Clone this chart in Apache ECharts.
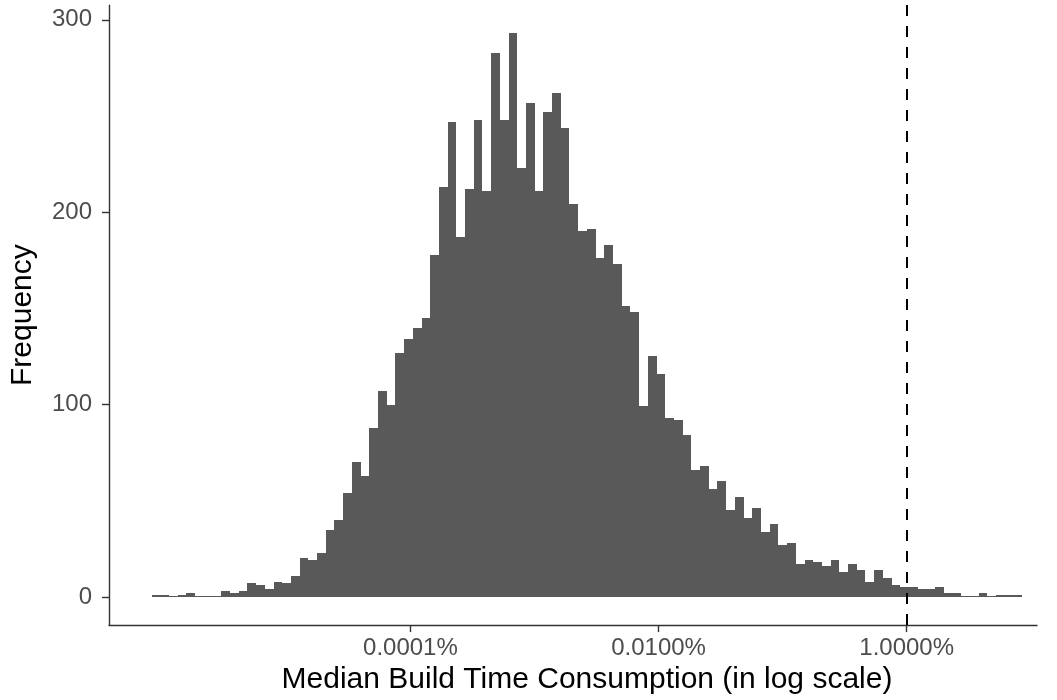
<!DOCTYPE html>
<html>
<head>
<meta charset="utf-8">
<title>Median Build Time Consumption</title>
<script src="https://cdn.jsdelivr.net/npm/echarts@6/dist/echarts.min.js"></script>
<style>
  html, body { margin: 0; padding: 0; background: #ffffff; }
  #chart { width: 1057px; height: 700px; }
</style>
</head>
<body>
<div id="chart"></div>
<script>
// Histogram of median build time consumption, 100 bins on a log10(percent) scale.
const binCounts = [
  1, 1, 0, 1, 2, 0, 0, 0, 3, 2,
  3, 7, 6, 4, 8, 7, 11, 20, 19, 23,
  35, 40, 54, 70, 63, 88, 107, 100, 127, 134,
  140, 145, 178, 213, 247, 187, 212, 248, 211, 283,
  248, 293, 223, 257, 211, 252, 262, 244, 204, 190,
  191, 176, 183, 173, 151, 148, 99, 125, 116, 93,
  92, 84, 66, 68, 56, 60, 45, 52, 41, 46,
  34, 38, 27, 28, 17, 19, 18, 16, 19, 13,
  17, 14, 8, 14, 10, 6, 5, 5, 4, 4,
  5, 2, 2, 0, 0, 2, 0, 1, 1, 1
];
// Lower edge of the first bin and the bin width, in log10(percent).
const binStart = -6.0856;
const binWidth = 0.07016;
// Threshold marked with the dashed line: 1% (log10 = 0).
const thresholdLog = 0;

const xTickValues = [-4, -2, 0];
const xTickLabels = ['0.0001%', '0.0100%', '1.0000%'];
const yTickValues = [0, 100, 200, 300];

const xTitle = 'Median Build Time Consumption (in log scale)';
const yTitle = 'Frequency';

const bins = binCounts.map((c, i) => [binStart + i * binWidth, binStart + (i + 1) * binWidth, c]);

const FONT = '"Liberation Sans", Arial, Helvetica, sans-serif';

const chart = echarts.init(document.getElementById('chart'), null, { renderer: 'canvas' });

chart.setOption({
  animation: false,
  backgroundColor: '#ffffff',
  grid: { left: 102, right: 20, top: 5.1, bottom: 73.5, containLabel: false },
  xAxis: {
    type: 'value',
    min: -6.4296,
    max: 1.0504,
    splitLine: { show: false },
    axisLine: { show: true, onZero: false, lineStyle: { color: '#333333', width: 1.4 } },
    axisTick: { show: true, customValues: xTickValues, length: 7, lineStyle: { color: '#333333', width: 1.4 } },
    axisLabel: {
      customValues: xTickValues,
      margin: 11,
      color: '#4d4d4d',
      fontSize: 24,
      fontFamily: FONT,
      formatter: (v) => {
        const i = xTickValues.findIndex(t => Math.abs(t - v) < 1e-9);
        return i >= 0 ? xTickLabels[i] : '';
      }
    },
    name: xTitle,
    nameLocation: 'middle',
    nameGap: 36,
    nameTextStyle: { color: '#000000', fontSize: 30, fontFamily: FONT, padding: [0, 0, 0, 28] }
  },
  yAxis: {
    type: 'value',
    min: -14.65,
    max: 307.65,
    splitLine: { show: false },
    axisLine: { show: true, onZero: false, lineStyle: { color: '#333333', width: 1.4 } },
    axisTick: { show: true, customValues: yTickValues, length: 7, lineStyle: { color: '#333333', width: 1.4 } },
    axisLabel: {
      customValues: yTickValues,
      margin: 17,
      color: '#4d4d4d',
      fontSize: 24,
      fontFamily: FONT
    },
    name: yTitle,
    nameLocation: 'middle',
    nameGap: 71,
    nameTextStyle: { color: '#000000', fontSize: 30, fontFamily: FONT }
  },
  series: [{
    type: 'custom',
    data: bins,
    encode: { x: [0, 1], y: 2 },
    clip: true,
    renderItem: (params, api) => {
      const top = api.coord([api.value(0), api.value(2)]);
      const base = api.coord([api.value(1), 0]);
      // Snap edges to whole pixels so neighbouring bins meet without seams.
      const x0 = Math.round(top[0]);
      const x1 = Math.round(base[0]);
      const yb = Math.round(base[1]);
      const yt = Math.min(Math.round(top[1]), yb - 1);
      return {
        type: 'rect',
        shape: { x: x0, y: yt, width: x1 - x0, height: yb - yt },
        style: { fill: '#595959' }
      };
    },
    markLine: {
      silent: true,
      symbol: ['none', 'none'],
      label: { show: false },
      lineStyle: { color: '#000000', width: 2, type: [11, 10] },
      data: [{ xAxis: thresholdLog }]
    }
  }]
});
</script>
</body>
</html>
